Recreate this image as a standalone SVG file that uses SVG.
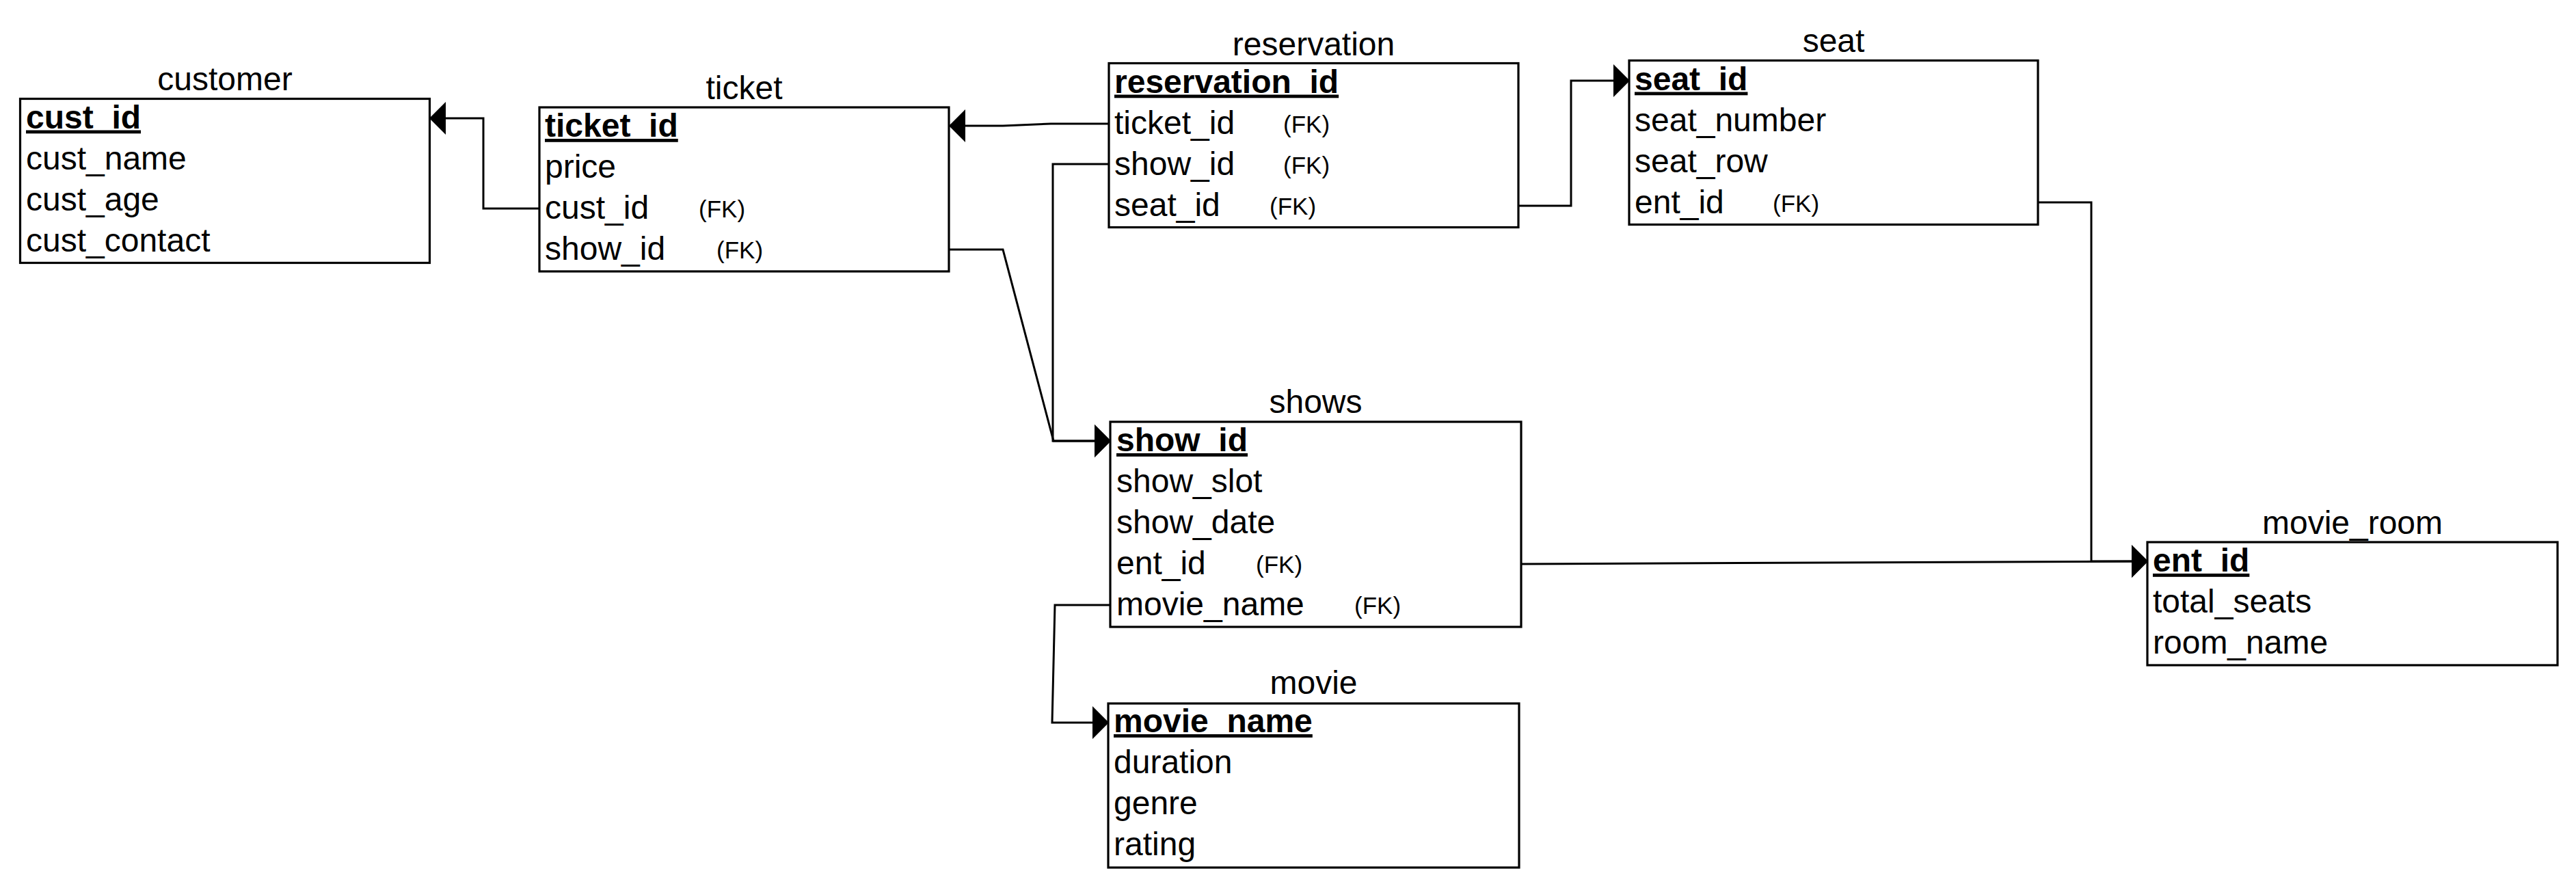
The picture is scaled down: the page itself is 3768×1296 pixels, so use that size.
<svg xmlns="http://www.w3.org/2000/svg" width="3768" height="1296" viewBox="0 0 3768 1296">
<style>
.box{fill:#fff;stroke:#000;stroke-width:3.2}
.title{font-family:"Liberation Sans",Arial,sans-serif;font-size:48px;fill:#000;text-anchor:middle}
.row{font-family:"Liberation Sans",Arial,sans-serif;font-size:48px;fill:#000}
.pk{font-family:"Liberation Sans",Arial,sans-serif;font-size:48px;font-weight:bold;fill:#000;text-decoration:underline}
.fk{font-family:"Liberation Sans",Arial,sans-serif;font-size:35px;fill:#000}
.conn{fill:none;stroke:#000;stroke-width:3;stroke-linejoin:miter;marker-end:url(#arrow)}
</style>
<defs>
<marker id="arrow" markerUnits="userSpaceOnUse" markerWidth="24" markerHeight="48" refX="23" refY="24" orient="auto" viewBox="0 0 24 48">
<path d="M0,0 L24,24 L0,48 Z" fill="#000"/>
</marker>
</defs>
<rect width="3768" height="1296" fill="#fff"/>
<g id="connectors">
<path class="conn" d="M788 305 L707 305 L707 173 L629 173"/>
<path class="conn" d="M1622 181 L1537 181 L1467 184 L1389 184"/>
<path class="conn" d="M1622 240 L1540 240 L1540 645 L1624 645"/>
<path class="conn" d="M1388 365 L1467 365 L1541 645 L1624 645"/>
<path class="conn" d="M2221 301 L2298 301 L2298 118 L2383 118"/>
<path class="conn" d="M2980 296 L3059 296 L3059 821 L3141 821"/>
<path class="conn" d="M2225 825 L3141 821"/>
<path class="conn" d="M1624 885 L1543 885 L1539 1057 L1621 1057"/>
</g>
<g id="customer">
<text class="title" x="329" y="132">customer</text>
<rect class="box" x="29.5" y="144.5" width="599" height="240"/>
<text class="pk" x="38" y="187.5">cust_id</text>
<text class="row" x="38" y="247.5">cust_name</text>
<text class="row" x="38" y="307.5">cust_age</text>
<text class="row" x="38" y="367.5">cust_contact</text>
</g>
<g id="ticket">
<text class="title" x="1088.5" y="145">ticket</text>
<rect class="box" x="789" y="157" width="599" height="240"/>
<text class="pk" x="797" y="200">ticket_id</text>
<text class="row" x="797" y="260">price</text>
<text class="row" x="797" y="320">cust_id</text>
<text class="fk" x="1022" y="318">(FK)</text>
<text class="row" x="797" y="380">show_id</text>
<text class="fk" x="1048" y="378">(FK)</text>
</g>
<g id="reservation">
<text class="title" x="1921.5" y="80.5">reservation</text>
<rect class="box" x="1622" y="92.5" width="599" height="240"/>
<text class="pk" x="1630" y="135.5">reservation_id</text>
<text class="row" x="1630" y="195.5">ticket_id</text>
<text class="fk" x="1877" y="193.5">(FK)</text>
<text class="row" x="1630" y="255.5">show_id</text>
<text class="fk" x="1877" y="253.5">(FK)</text>
<text class="row" x="1630" y="315.5">seat_id</text>
<text class="fk" x="1857" y="313.5">(FK)</text>
</g>
<g id="seat">
<text class="title" x="2682" y="76">seat</text>
<rect class="box" x="2383" y="88.5" width="598" height="240"/>
<text class="pk" x="2391" y="131.5">seat_id</text>
<text class="row" x="2391" y="191.5">seat_number</text>
<text class="row" x="2391" y="251.5">seat_row</text>
<text class="row" x="2391" y="311.5">ent_id</text>
<text class="fk" x="2593" y="309.5">(FK)</text>
</g>
<g id="shows">
<text class="title" x="1924.5" y="604">shows</text>
<rect class="box" x="1624" y="617" width="601" height="300"/>
<text class="pk" x="1633" y="660">show_id</text>
<text class="row" x="1633" y="720">show_slot</text>
<text class="row" x="1633" y="780">show_date</text>
<text class="row" x="1633" y="840">ent_id</text>
<text class="fk" x="1837" y="838">(FK)</text>
<text class="row" x="1633" y="900">movie_name</text>
<text class="fk" x="1981" y="898">(FK)</text>
</g>
<g id="movie">
<text class="title" x="1921.5" y="1015">movie</text>
<rect class="box" x="1621" y="1029" width="601" height="240"/>
<text class="pk" x="1629" y="1071">movie_name</text>
<text class="row" x="1629" y="1131">duration</text>
<text class="row" x="1629" y="1191">genre</text>
<text class="row" x="1629" y="1251">rating</text>
</g>
<g id="movie_room">
<text class="title" x="3441" y="781">movie_room</text>
<rect class="box" x="3141" y="793" width="600" height="180"/>
<text class="pk" x="3149" y="836">ent_id</text>
<text class="row" x="3149" y="896">total_seats</text>
<text class="row" x="3149" y="956">room_name</text>
</g>
</svg>
